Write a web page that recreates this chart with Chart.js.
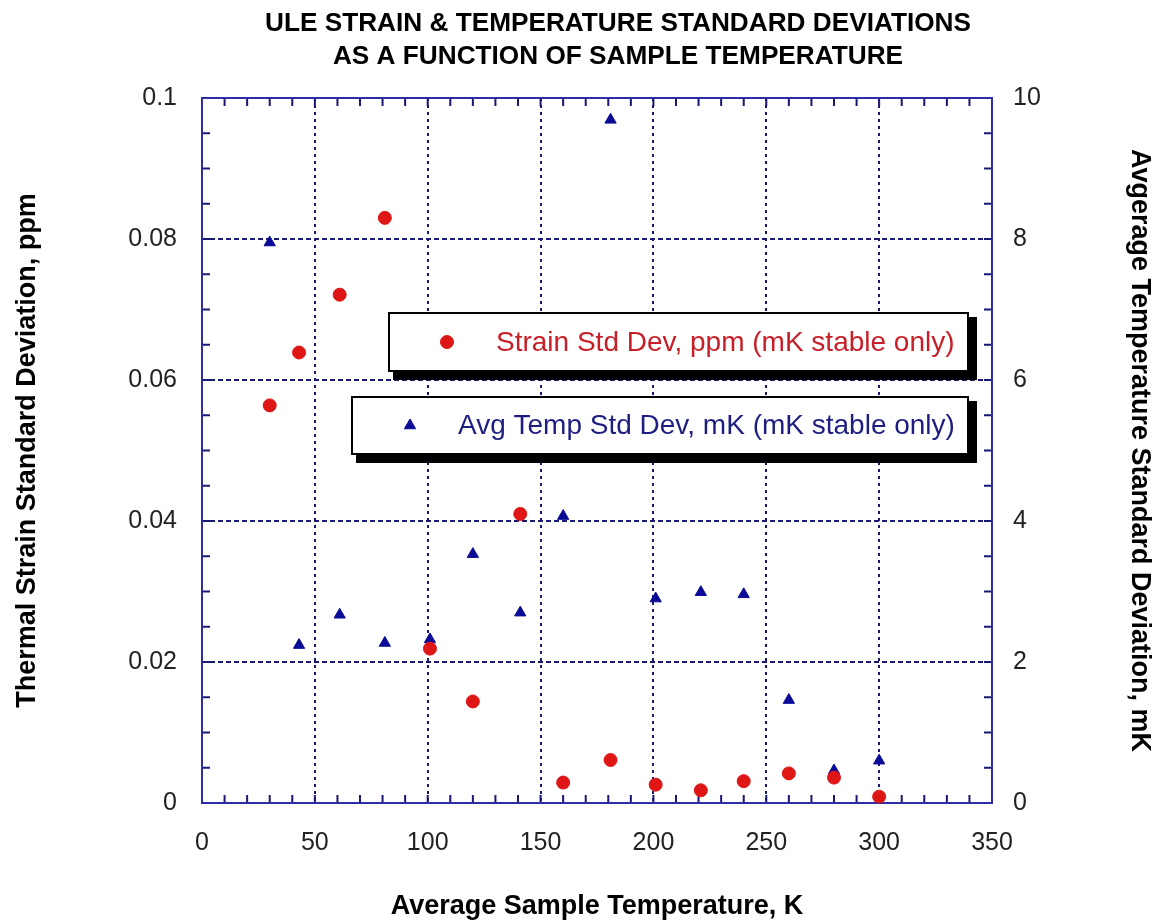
<!DOCTYPE html>
<html>
<head>
<meta charset="utf-8">
<script src="https://cdn.jsdelivr.net/npm/chart.js@4.4.0/dist/chart.umd.min.js"></script>
<style>
  body { margin: 0; background: #fff; }
</style>
</head>
<body>
<canvas id="chart" width="1154" height="923"></canvas>
<script>
// values
const sampleTemps = [30, 43, 61, 81, 101, 120, 141, 160, 181, 201, 221, 240, 260, 280, 300];
const strainStd = [0.0564, 0.0639, 0.0721, 0.0830, 0.0219, 0.0144, 0.0410, 0.0029, 0.0061, 0.0026, 0.0018, 0.0031, 0.0042, 0.0036, 0.0009];
const tempStd = [7.95, 2.24, 2.67, 2.27, 2.32, 3.53, 2.70, 4.07, 9.69, 2.90, 2.99, 2.96, 1.46, 0.46, 0.60];

const titleLines = ['ULE STRAIN & TEMPERATURE STANDARD DEVIATIONS', 'AS A FUNCTION OF SAMPLE TEMPERATURE'];
const xTitle = 'Average Sample Temperature, K';
const yTitle = 'Thermal Strain Standard Deviation, ppm';
const y1Title = 'Avgerage Temperature Standard Deviation, mK';
const strainLabel = 'Strain Std Dev, ppm (mK stable only)';
const tempLabel = 'Avg Temp Std Dev, mK (mK stable only)';

const gridColor = 'rgb(25,25,115)';
const frameColor = 'rgb(45,45,165)';
const fontFamily = "'Liberation Sans', Arial, sans-serif";

function isMultiple(v, step) {
  const r = v / step;
  return Math.abs(r - Math.round(r)) < 1e-6;
}

// title drawn centred over the plot, squeezed to the width of the original
const titlePlugin = {
  id: 'titleLines',
  afterDraw(chart) {
    const ctx = chart.ctx;
    ctx.save();
    ctx.font = 'bold 26px ' + fontFamily;
    ctx.fillStyle = '#000';
    ctx.textAlign = 'center';
    ctx.textBaseline = 'middle';
    const sx = 706 / ctx.measureText(titleLines[0]).width;
    [24, 57].forEach((y, i) => {
      ctx.save();
      ctx.translate(618, y);
      ctx.scale(sx, 1);
      ctx.fillText(titleLines[i], 0, 0);
      ctx.restore();
    });
    ctx.restore();
  }
};

// frame and inward tick marks on all four sides
const framePlugin = {
  id: 'frame',
  beforeDatasetsDraw(chart) {
    const {ctx, chartArea: a, scales} = chart;
    ctx.save();
    ctx.strokeStyle = gridColor;
    ctx.lineWidth = 2;
    ctx.beginPath();
    scales.x.ticks.forEach(t => {
      const px = scales.x.getPixelForValue(t.value);
      ctx.moveTo(px, a.bottom); ctx.lineTo(px, a.bottom - 8);
      ctx.moveTo(px, a.top); ctx.lineTo(px, a.top + 8);
    });
    scales.y.ticks.forEach(t => {
      const py = scales.y.getPixelForValue(t.value);
      ctx.moveTo(a.left, py); ctx.lineTo(a.left + 8, py);
    });
    scales.y1.ticks.forEach(t => {
      const py = scales.y1.getPixelForValue(t.value);
      ctx.moveTo(a.right, py); ctx.lineTo(a.right - 8, py);
    });
    ctx.stroke();
    ctx.strokeStyle = frameColor;
    ctx.strokeRect(a.left, a.top, a.right - a.left, a.bottom - a.top);
    ctx.restore();
  }
};

// two boxed legend entries with a drop shadow
const legendBoxes = [
  {x: 389, y: 313, w: 579, h: 58, markX: 447, textX: 496},
  {x: 352, y: 397, w: 616, h: 57, markX: 410, textX: 458}
];
const boxLegendPlugin = {
  id: 'boxLegend',
  afterDatasetsDraw(chart) {
    const ctx = chart.ctx;
    ctx.save();
    chart.data.datasets.forEach((ds, i) => {
      const b = legendBoxes[i];
      ctx.fillStyle = '#000';
      ctx.fillRect(b.x + 4, b.y + 4, b.w + 5, b.h + 5);
      ctx.fillStyle = '#fff';
      ctx.fillRect(b.x, b.y, b.w, b.h);
      ctx.strokeStyle = '#000';
      ctx.lineWidth = 2;
      ctx.strokeRect(b.x, b.y, b.w, b.h);
      const cy = b.y + b.h / 2;
      ctx.fillStyle = ds.pointBackgroundColor;
      ctx.strokeStyle = ds.pointBorderColor;
      ctx.lineWidth = 1;
      Chart.helpers.drawPoint(ctx, {pointStyle: ds.pointStyle, radius: ds.pointRadius, rotation: 0, borderWidth: 1}, b.markX, cy);
      ctx.font = '28px ' + fontFamily;
      ctx.fillStyle = ds.legendTextColor;
      ctx.textAlign = 'left';
      ctx.textBaseline = 'middle';
      ctx.fillText(ds.label, b.textX, cy + 1);
    });
    ctx.restore();
  }
};

const tickFont = {family: fontFamily, size: 25};
const axisTitleFont = {family: fontFamily, size: 27, weight: 'bold', lineHeight: 1};

new Chart(document.getElementById('chart'), {
  type: 'scatter',
  data: {
    datasets: [
      {
        label: strainLabel,
        data: sampleTemps.map((t, i) => ({x: t, y: strainStd[i]})),
        yAxisID: 'y',
        pointStyle: 'circle',
        pointRadius: 6.5,
        pointBackgroundColor: 'rgb(222,22,22)',
        pointBorderColor: 'rgb(222,22,22)',
        legendTextColor: 'rgb(200,30,40)'
      },
      {
        label: tempLabel,
        data: sampleTemps.map((t, i) => ({x: t, y: tempStd[i]})),
        yAxisID: 'y1',
        pointStyle: 'triangle',
        pointRadius: 6.5,
        pointBackgroundColor: 'rgb(10,10,150)',
        pointBorderColor: 'rgb(10,10,150)',
        legendTextColor: 'rgb(30,30,130)'
      }
    ]
  },
  options: {
    responsive: false,
    animation: false,
    layout: {padding: {top: 98, left: 0, right: 0, bottom: 0}},
    plugins: {
      legend: {display: false},
      title: {display: false},
      tooltip: {enabled: false}
    },
    scales: {
      x: {
        type: 'linear',
        min: 0,
        max: 350,
        afterFit: s => { s.height = 120; },
        ticks: {
          stepSize: 10,
          autoSkip: false,
          maxRotation: 0,
          padding: 25,
          color: '#222',
          font: tickFont,
          callback: v => isMultiple(v, 50) ? String(v) : ''
        },
        grid: {
          drawTicks: false,
          lineWidth: 2,
          color: c => isMultiple(c.tick.value, 50) ? gridColor : 'rgba(0,0,0,0)'
        },
        border: {display: false, dash: [3, 4]},
        title: {display: true, text: xTitle, color: '#000', font: axisTitleFont, padding: {top: 0, bottom: 3}}
      },
      y: {
        type: 'linear',
        position: 'left',
        min: 0,
        max: 0.1,
        afterFit: s => { s.width = 202; },
        ticks: {
          stepSize: 0.005,
          autoSkip: false,
          padding: 25,
          color: '#222',
          font: tickFont,
          callback: v => isMultiple(v, 0.02) ? String(+v.toFixed(2)) : ''
        },
        grid: {
          drawTicks: false,
          lineWidth: 2,
          color: c => isMultiple(c.tick.value, 0.02) ? gridColor : 'rgba(0,0,0,0)'
        },
        border: {display: false, dash: [5, 3]},
        title: {display: true, text: yTitle, color: '#000', font: axisTitleFont, padding: {top: 14, bottom: 0}}
      },
      y1: {
        type: 'linear',
        position: 'right',
        min: 0,
        max: 10,
        afterFit: s => { s.width = 162; },
        ticks: {
          stepSize: 0.5,
          autoSkip: false,
          padding: 21,
          color: '#222',
          font: tickFont,
          callback: v => isMultiple(v, 2) ? String(v) : ''
        },
        grid: {drawTicks: false, drawOnChartArea: false},
        border: {display: false},
        title: {display: true, text: y1Title, color: '#000', font: axisTitleFont, padding: {top: 1, bottom: 0}}
      }
    }
  },
  plugins: [titlePlugin, framePlugin, boxLegendPlugin]
});
</script>
</body>
</html>
